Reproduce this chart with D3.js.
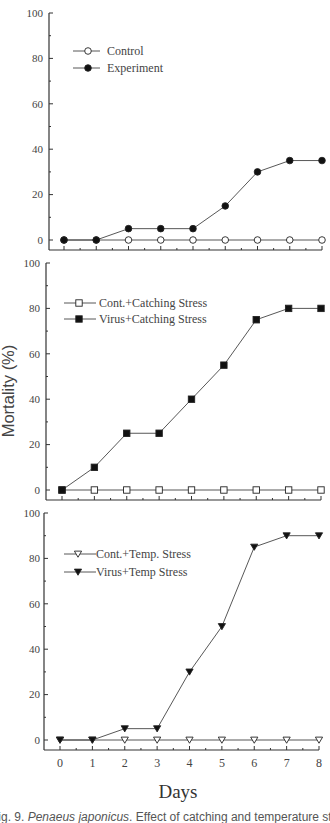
<!DOCTYPE html>
<html><head><meta charset="utf-8">
<script src="https://cdn.jsdelivr.net/npm/d3@7"></script>
<style>body{margin:0;background:#fff;}svg{display:block;} .sf{font-family:"Liberation Serif","Times New Roman","DejaVu Serif",serif;} .ss{font-family:"Liberation Sans",Arial,sans-serif;}</style>
</head><body>
<svg id="c" width="330" height="823"></svg>
<script>
const days = [0,1,2,3,4,5,6,7,8];
const yTicks = [0,20,40,60,80,100];
const controlP1 = [0,0,0,0,0,0,0,0,0];
const experimentP1 = [0,0,5,5,5,15,30,35,35];
const controlP2 = [0,0,0,0,0,0,0,0,0];
const virusCatching = [0,10,25,25,40,55,75,80,80];
const controlP3 = [0,0,0,0,0,0,0,0,0];
const virusTemp = [0,0,5,5,30,50,85,90,90];
const legendP1 = ["Control","Experiment"];
const legendP2 = ["Cont.+Catching Stress","Virus+Catching Stress"];
const legendP3 = ["Cont.+Temp. Stress","Virus+Temp  Stress"];

const svg = d3.select("#c");
const ink = "#333";

const panels = [
  {axisX:49, x0:64, x8:322, yTop:13, series:[controlP1, experimentP1], legend:legendP1, mk:["circle","circle"], leg:{x1:73,x2:100,mx:88,tx:107,y:[51,68]}, lab:43, xlabels:false},
  {axisX:46, x0:62, x8:321, yTop:263, series:[controlP2, virusCatching], legend:legendP2, mk:["square","square"], leg:{x1:64,x2:96,mx:79,tx:99,y:[303,319]}, lab:40, xlabels:false},
  {axisX:44, x0:60, x8:319, yTop:513, series:[controlP3, virusTemp], legend:legendP3, mk:["triangle","triangle"], leg:{x1:64,x2:96,mx:78,tx:96,y:[554,572]}, lab:40, xlabels:true}
];

function marker(g, type, filled, x, y){
  const fill = filled ? "#111" : "#fff";
  if(type==="circle"){
    g.append("circle").attr("cx",x).attr("cy",y).attr("r",3.3).attr("fill",fill).attr("stroke","#222").attr("stroke-width",0.9);
  } else if(type==="square"){
    g.append("rect").attr("x",x-3.2).attr("y",y-3.2).attr("width",6.4).attr("height",6.4).attr("fill",fill).attr("stroke","#222").attr("stroke-width",0.9);
  } else {
    const s=3.6;
    g.append("path").attr("d",`M${x-s},${y-s*0.8}L${x+s},${y-s*0.8}L${x},${y+s*0.9}Z`).attr("fill",fill).attr("stroke","#222").attr("stroke-width",0.9);
  }
}

panels.forEach(p=>{
  const g = svg.append("g");
  const y = d3.scaleLinear().domain([0,100]).range([p.yTop+227, p.yTop]);
  const x = d3.scaleLinear().domain([0,8]).range([p.x0, p.x8]);
  const axisY = y(0)+10;
  g.append("line").attr("x1",p.axisX).attr("x2",p.axisX).attr("y1",p.yTop).attr("y2",axisY).attr("stroke",ink).attr("stroke-width",1.2);
  g.append("line").attr("x1",p.axisX).attr("x2",p.x8).attr("y1",axisY).attr("y2",axisY).attr("stroke",ink).attr("stroke-width",1.2);
  d3.range(0,101,10).forEach(v=>{
    const major = v%20===0;
    g.append("line").attr("x1",p.axisX).attr("x2",p.axisX+(major?4:2)).attr("y1",y(v)).attr("y2",y(v)).attr("stroke",ink).attr("stroke-width",1);
  });
  yTicks.forEach(v=>{
    g.append("text").attr("class","sf").attr("x",p.lab).attr("y",y(v)).attr("dy","0.35em").attr("text-anchor","end")
      .attr("font-size",11).attr("fill","#444").text(v);
  });
  d3.range(0,8.01,0.5).forEach(v=>{
    const major = v%1===0;
    g.append("line").attr("x1",x(v)).attr("x2",x(v)).attr("y1",axisY).attr("y2",axisY-(major?4:2)).attr("stroke",ink).attr("stroke-width",1);
  });
  if(p.xlabels){
    days.forEach(d=>{
      g.append("text").attr("class","sf").attr("x",x(d)).attr("y",axisY+17).attr("text-anchor","middle")
        .attr("font-size",12).attr("fill","#444").text(d);
    });
  }
  const line = d3.line().x((d,i)=>x(days[i])).y(d=>y(d));
  p.series.forEach(s=>{
    g.append("path").attr("d",line(s)).attr("fill","none").attr("stroke","#444").attr("stroke-width",0.9);
  });
  p.series.forEach((s,si)=>{
    s.forEach((v,i)=>marker(g,p.mk[si],si===1,x(days[i]),y(v)));
  });
  p.legend.forEach((t,i)=>{
    const ly = p.leg.y[i];
    g.append("line").attr("x1",p.leg.x1).attr("x2",p.leg.x2).attr("y1",ly).attr("y2",ly).attr("stroke","#444").attr("stroke-width",0.9);
    marker(g,p.mk[i],i===1,p.leg.mx,ly);
    g.append("text").attr("class","sf").attr("x",p.leg.tx).attr("y",ly).attr("dy","0.35em")
      .attr("font-size",12).attr("fill","#444").text(t);
  });
});

svg.append("text").attr("class","ss").attr("transform","translate(14,391) rotate(-90)").attr("text-anchor","middle")
  .attr("font-size",16.5).attr("fill","#444").text("Mortality (%)");
svg.append("text").attr("class","sf").attr("x",178).attr("y",798).attr("text-anchor","middle")
  .attr("font-size",19).attr("fill","#333").text("Days");
const cap = svg.append("text").attr("class","ss").attr("x",-9).attr("y",821).attr("font-size",12).attr("fill","#555");
cap.append("tspan").text("Fig. 9. ");
cap.append("tspan").attr("font-style","italic").text("Penaeus japonicus");
cap.append("tspan").text(". Effect of catching and temperature stress");
</script>
</body></html>
